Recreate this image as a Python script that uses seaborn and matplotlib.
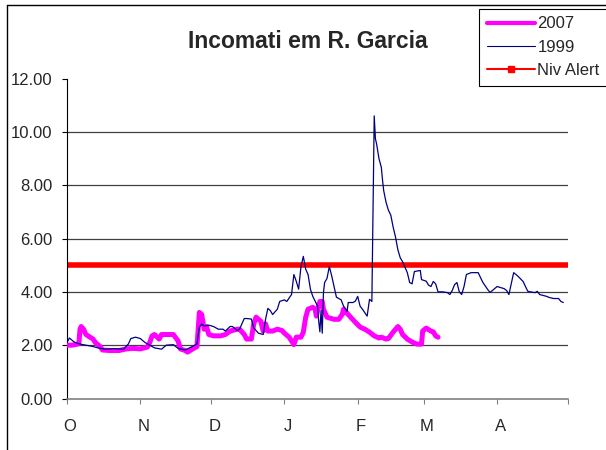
import matplotlib.pyplot as plt
import matplotlib.transforms as mtransforms
import pandas as pd
import seaborn as sns
from matplotlib.lines import Line2D

# days counted from 1 October, levels in metres
days_2007 = [0, 2, 5, 5.5, 6, 7, 8, 11, 12, 14, 15, 18, 22, 25, 28, 31, 34, 35, 36, 37,
             39, 40, 42, 45, 47, 48, 50, 51, 53, 54, 55, 56, 57, 58, 59, 60, 62, 65, 67, 69,
             72, 73, 75, 76, 78, 79, 80, 82, 83, 84, 85, 87, 89, 91, 92, 94, 95, 96, 97, 99,
             100, 101, 102, 104, 105, 105.5, 106.5, 107, 108, 108.5, 110, 113, 115, 116.5,
             117, 118.5, 120, 122, 124, 126, 128, 130, 132, 133, 135, 136, 138, 140, 141,
             142, 144, 146, 148, 150, 150.5, 152, 154, 155, 156, 157]
level_2007 = [2.00, 2.00, 2.05, 2.60, 2.70, 2.60, 2.40, 2.23, 2.10, 1.95, 1.82, 1.80, 1.80,
              1.86, 1.88, 1.86, 1.93, 2.10, 2.35, 2.40, 2.23, 2.40, 2.40, 2.40, 2.16, 1.86,
              1.80, 1.74, 1.85, 1.90, 1.95, 3.23, 3.15, 2.60, 2.70, 2.40, 2.35, 2.35, 2.40,
              2.53, 2.60, 2.60, 2.40, 2.23, 2.23, 2.79, 3.05, 2.90, 2.53, 2.80, 2.53, 2.53,
              2.60, 2.55, 2.45, 2.30, 2.16, 2.02, 2.30, 2.30, 2.49, 3.05, 3.35, 3.42, 3.35,
              3.09, 3.47, 3.64, 3.64, 3.35, 3.05, 2.97, 2.97, 3.16, 3.35, 3.20, 3.05, 2.86,
              2.68, 2.60, 2.49, 2.35, 2.27, 2.30, 2.23, 2.25, 2.49, 2.70, 2.60, 2.40, 2.23,
              2.12, 2.04, 2.04, 2.53, 2.64, 2.53, 2.50, 2.35, 2.30]

days_1999 = [0, 1, 3, 5, 8, 11, 13, 16, 20, 24, 26, 27, 29, 31, 33, 35, 37, 40, 42, 45,
             47, 50, 53, 54, 55, 56, 57, 58, 60, 62, 64, 66, 67, 69, 70, 72, 73, 75, 76, 78,
             79, 81, 83, 84, 85, 86, 87, 89, 90, 92, 93, 95, 96, 97, 98, 99, 100, 101, 102,
             103, 104, 106, 106.5, 107, 107.5, 108, 108.5, 109, 110, 111, 112, 113, 114, 116,
             117, 118.5, 119, 121, 122, 123, 124, 125, 127, 128, 129, 130, 130.5, 131, 132,
             133, 133.5, 134, 135, 136, 137, 138, 139, 140, 141, 142, 144, 145, 146, 147,
             148, 149.5, 150, 152, 153, 154, 155, 156, 157, 159, 161, 162, 163, 164, 165,
             166, 167, 168, 169, 171, 174, 175, 176, 178, 179, 180, 182, 185, 186, 187, 189,
             190, 191, 193, 194, 195, 198, 199, 200, 203, 204, 206, 208, 209, 210]
level_1999 = [2.10, 2.27, 2.12, 2.05, 2.00, 1.95, 1.90, 1.85, 1.87, 1.85, 2.05, 2.25, 2.30,
              2.25, 2.10, 2.00, 1.90, 1.85, 2.00, 2.02, 1.88, 1.82, 1.95, 2.00, 2.05, 2.68,
              2.79, 2.72, 2.75, 2.70, 2.60, 2.60, 2.53, 2.70, 2.70, 2.55, 2.60, 3.00, 3.00,
              2.98, 2.65, 2.45, 2.40, 2.97, 3.38, 3.30, 3.15, 3.35, 3.64, 3.70, 3.64, 3.90,
              4.65, 4.40, 4.10, 4.95, 5.33, 4.85, 4.65, 4.10, 3.83, 3.47, 2.90, 2.50, 3.30,
              2.45, 3.95, 4.35, 4.50, 4.95, 4.60, 4.20, 3.80, 3.70, 3.47, 3.27, 3.60, 3.60,
              3.65, 3.83, 3.47, 3.35, 3.09, 3.72, 3.64, 10.60, 9.74, 9.55, 9.00, 8.67, 8.20,
              7.80, 7.36, 7.06, 6.88, 6.43, 6.06, 5.58, 5.28, 5.13, 4.72, 4.35, 4.30, 4.76,
              4.78, 4.80, 4.46, 4.40, 4.25, 4.20, 4.39, 4.30, 4.00, 4.00, 3.97, 3.90, 4.05,
              4.27, 4.35, 4.00, 3.90, 4.20, 4.65, 4.72, 4.72, 4.53, 4.35, 4.09, 3.98, 4.05,
              4.20, 4.12, 4.05, 3.90, 4.72, 4.65, 4.57, 4.39, 4.20, 4.02, 3.97, 4.02, 3.90,
              3.83, 3.79, 3.75, 3.75, 3.64, 3.60]

alert_days = [0, 212]
alert_level = [5.0, 5.0]

month_starts = [0, 31, 61, 92, 123, 151, 182, 212]
month_labels = ["O", "N", "D", "J", "F", "M", "A", ""]
y_ticks = [0, 2, 4, 6, 8, 10, 12]

df_2007 = pd.DataFrame({"day": days_2007, "level": level_2007})
df_1999 = pd.DataFrame({"day": days_1999, "level": level_1999})
df_alert = pd.DataFrame({"day": alert_days, "level": alert_level})

sns.set_style("white")
plt.rcParams["font.family"] = ["Liberation Sans", "DejaVu Sans"]

fig = plt.figure(figsize=(6.06, 4.5), dpi=100)
ax = fig.add_axes([0.1106, 0.1144, 0.8267, 0.7111])

for v in y_ticks[1:-1]:
    ax.axhline(v, color="#404040", lw=0.9, zorder=1)

sns.lineplot(data=df_alert, x="day", y="level", ax=ax, color="#FF0000", lw=4,
             solid_capstyle="projecting", estimator=None, sort=False, zorder=2)
sns.lineplot(data=df_2007, x="day", y="level", ax=ax, color="#FF00FF", lw=3.6,
             estimator=None, sort=False, zorder=3)
sns.lineplot(data=df_1999, x="day", y="level", ax=ax, color="#000080", lw=0.9,
             estimator=None, sort=False, zorder=4)

ax.set_xlim(0, 212)
ax.set_ylim(0, 12)
ax.set_xticks(month_starts)
ax.set_xticklabels(month_labels)
ax.set_yticks(y_ticks)
ax.set_yticklabels([f"{v:.2f}" for v in y_ticks])
ax.set_xlabel("")
ax.set_ylabel("")
ax.tick_params(axis="y", direction="out", length=3.5, width=0.8, color="black",
               labelsize=12, pad=7, left=True)
ax.tick_params(axis="x", direction="out", length=3.5, width=0.8, color="#808080",
               labelsize=12, pad=11, bottom=True)
# month letters sit a little right of their ticks
shift = mtransforms.ScaledTranslation(3 / 100, 0, fig.dpi_scale_trans)
for lab in ax.get_xticklabels():
    lab.set_transform(lab.get_transform() + shift)
for side in ["top", "right"]:
    ax.spines[side].set_visible(False)
ax.spines["left"].set_color("black")
ax.spines["left"].set_linewidth(0.8)
ax.spines["bottom"].set_color("#808080")
ax.spines["bottom"].set_linewidth(1.2)

fig.text(0.508, 0.907, "Incomati em R. Garcia", ha="center", va="center",
         fontsize=16.5, fontweight="bold")

handles = [
    Line2D([], [], color="#FF00FF", lw=3),
    Line2D([], [], color="#000080", lw=0.8),
    Line2D([], [], color="#FF0000", lw=1.5, marker="s", markersize=4),
]
leg = fig.legend(handles, ["2007", "1999", "Niv Alert"], loc="upper left",
                 bbox_to_anchor=(479 / 606, 1 - 9 / 450), borderaxespad=0,
                 frameon=True, fancybox=False, edgecolor="black", framealpha=1,
                 fontsize=12, handlelength=2.9, handletextpad=0.15, borderpad=0.45,
                 labelspacing=0.5)
leg.get_frame().set_linewidth(0.8)

fig.add_artist(Line2D([7 / 606, 1], [1 - 5 / 450, 1 - 5 / 450],
                      transform=fig.transFigure, color="black", lw=1))
fig.add_artist(Line2D([7 / 606, 7 / 606], [0, 1 - 5 / 450],
                      transform=fig.transFigure, color="black", lw=1))

fig.savefig("out.png", dpi=100)
